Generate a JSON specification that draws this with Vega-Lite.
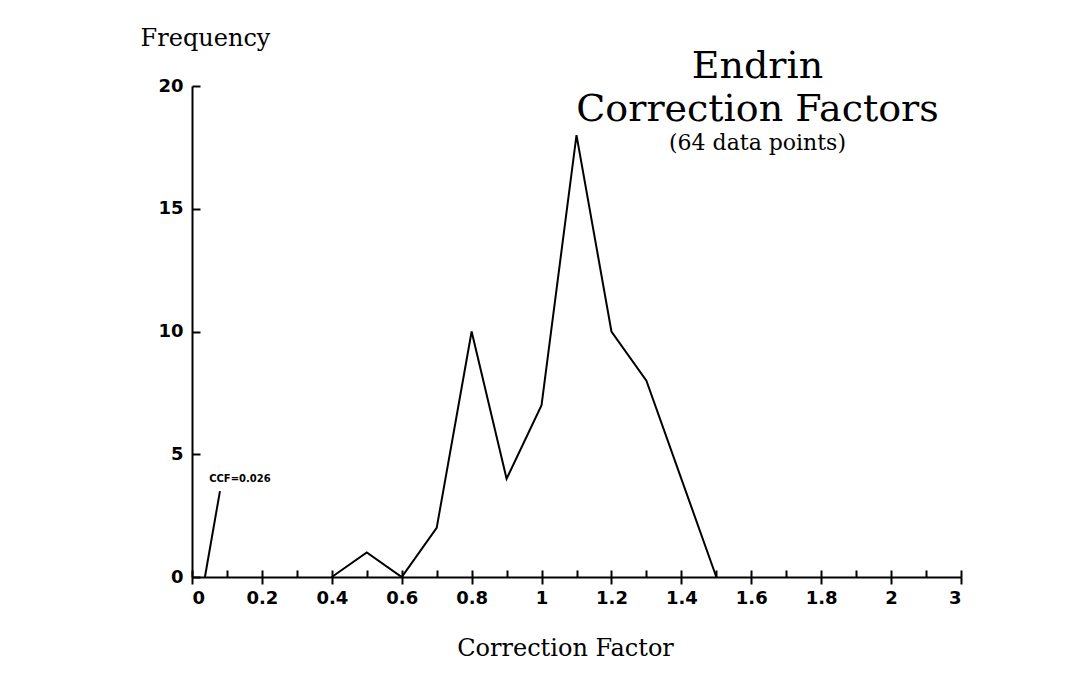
{
  "$schema": "https://vega.github.io/schema/vega-lite/v6.json",
  "width": 769,
  "height": 491,
  "autosize": "none",
  "padding": {"left": 192, "top": 86, "right": 116, "bottom": 96},
  "background": "white",
  "config": {
    "view": {"stroke": null},
    "axis": {"grid": false, "domainColor": "black", "tickColor": "black", "labelColor": "black", "titleColor": "black"}
  },
  "title": {
    "text": ["Endrin", "Correction Factors"],
    "subtitle": "(64 data points)",
    "anchor": "middle",
    "frame": "group",
    "orient": "top",
    "dx": 181,
    "offset": -128,
    "font": "DejaVu Serif",
    "fontSize": 38,
    "fontWeight": "normal",
    "lineHeight": 43,
    "color": "black",
    "subtitleFont": "DejaVu Serif",
    "subtitleFontSize": 22,
    "subtitleColor": "black",
    "subtitlePadding": 4
  },
  "datasets": {
    "freq": [
      {"cf": 0.4, "n": 0},
      {"cf": 0.5, "n": 1},
      {"cf": 0.6, "n": 0},
      {"cf": 0.7, "n": 2},
      {"cf": 0.8, "n": 10},
      {"cf": 0.9, "n": 4},
      {"cf": 1.0, "n": 7},
      {"cf": 1.1, "n": 18},
      {"cf": 1.2, "n": 10},
      {"cf": 1.3, "n": 8},
      {"cf": 1.4, "n": 4},
      {"cf": 1.5, "n": 0}
    ],
    "pointer": [
      {"cf": 0.037, "n": 0},
      {"cf": 0.08, "n": 3.5}
    ],
    "note": [
      {"cf": 0.049, "n": 4.0, "label": "CCF=0.026"}
    ]
  },
  "resolve": {"axis": {"x": "independent"}},
  "layer": [
    {
      "data": {"name": "freq"},
      "mark": {"type": "line", "color": "black", "strokeWidth": 2, "clip": false},
      "encoding": {
        "x": {
          "field": "cf", "type": "quantitative",
          "scale": {"domain": [0, 2.2], "nice": false, "zero": true},
          "axis": {
            "orient": "bottom",
            "values": [0, 0.2, 0.4, 0.6, 0.8, 1, 1.2, 1.4, 1.6, 1.8, 2, 2.2],
            "labelExpr": "datum.value > 2.1 ? '3' : '' + round(datum.value * 10) / 10",
            "tickSize": 7,
            "tickWidth": 2,
            "domainWidth": 2,
            "labelFont": "DejaVu Sans",
            "labelFontWeight": "bold",
            "labelFontSize": 18,
            "labelPadding": 5,
            "title": "Correction Factor",
            "titleFont": "DejaVu Serif",
            "titleFontSize": 24,
            "titleFontWeight": "normal",
            "titleX": 373,
            "titleY": 78,
            "titleAlign": "center",
            "titleBaseline": "alphabetic",
            "titleAnchor": null
          }
        },
        "y": {
          "field": "n", "type": "quantitative",
          "scale": {"domain": [0, 20], "nice": false},
          "axis": {
            "values": [0, 5, 10, 15, 20],
            "tickSize": -8,
            "tickWidth": 2,
            "domainWidth": 2,
            "labelFont": "DejaVu Sans",
            "labelFontWeight": "bold",
            "labelFontSize": 18,
            "labelPadding": 17,
            "title": "Frequency",
            "titleFont": "DejaVu Serif",
            "titleFontSize": 24,
            "titleFontWeight": "normal",
            "titleAngle": 0,
            "titleX": 13,
            "titleY": -41,
            "titleAlign": "center",
            "titleBaseline": "alphabetic",
            "titleAnchor": null
          }
        }
      }
    },
    {
      "data": {"name": "pointer"},
      "mark": {"type": "line", "color": "black", "strokeWidth": 2},
      "encoding": {
        "x": {
          "field": "cf", "type": "quantitative",
          "axis": {
            "orient": "bottom",
            "values": [0, 0.1, 0.2, 0.3, 0.4, 0.5, 0.6, 0.7, 0.8, 0.9, 1, 1.1, 1.2, 1.3, 1.4, 1.5, 1.6, 1.7, 1.8, 1.9, 2, 2.1, 2.2],
            "tickSize": -7,
            "tickWidth": 2,
            "labels": false,
            "domain": false,
            "title": null
          }
        },
        "y": {"field": "n", "type": "quantitative"}
      }
    },
    {
      "data": {"name": "note"},
      "mark": {"type": "text", "align": "left", "baseline": "middle", "font": "DejaVu Sans", "fontWeight": "bold", "fontSize": 10, "color": "black"},
      "encoding": {
        "x": {"field": "cf", "type": "quantitative", "axis": null},
        "y": {"field": "n", "type": "quantitative"},
        "text": {"field": "label"}
      }
    }
  ]
}
